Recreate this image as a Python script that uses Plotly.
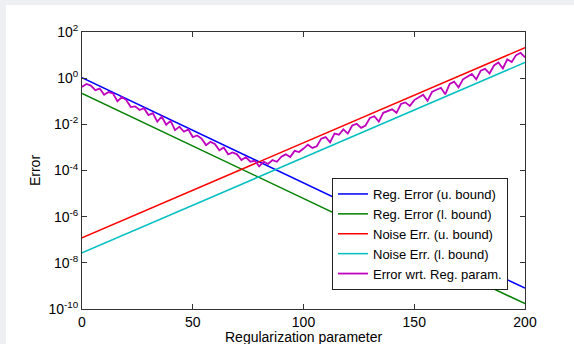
import plotly.graph_objects as go

# ---- data ----
x_ends = [0, 200]
reg_upper = [1.05, 8.0e-10]
reg_lower = [0.22, 1.7e-10]
noise_upper = [1.2e-7, 21.0]
noise_lower = [2.7e-8, 4.8]

x_err = list(range(0, 201, 2))
err_log10 = [
    -0.38, -0.25, -0.32, -0.52, -0.45, -0.72, -0.60, -0.66, -1.00, -0.82,
    -0.95, -1.25, -1.22, -1.38, -1.30, -1.60, -1.52, -1.88, -1.66, -2.02,
    -1.85, -2.25, -2.10, -2.32, -2.22, -2.55, -2.48, -2.62, -2.90, -2.76,
    -2.85, -3.12, -3.00, -3.30, -3.22, -3.30, -3.55, -3.42, -3.62, -3.58,
    -3.82, -3.62, -3.72,
    -3.55, -3.62, -3.40, -3.30, -3.42, -3.15, -3.20, -3.05, -2.88, -3.02,
    -2.95, -2.62, -2.55, -2.78, -2.40, -2.45, -2.22, -2.40, -2.05, -1.98,
    -2.15, -2.05, -1.72, -1.65, -1.88, -1.50, -1.42, -1.35, -1.50, -1.12,
    -1.05, -1.20, -0.95, -0.82, -0.72, -0.98, -0.60, -0.50, -0.42, -0.70,
    -0.25, -0.15, -0.40, -0.05, 0.08, 0.18, -0.05, 0.32, 0.40, 0.20,
    0.55, 0.68, 0.42, 0.82, 0.70, 1.00, 1.10, 0.90,
]
err_vals = [10 ** v for v in err_log10]

y_tickvals = [1e2, 1e0, 1e-2, 1e-4, 1e-6, 1e-8, 1e-10]
y_ticktext = ["10<sup>2</sup>", "10<sup>0</sup>", "10<sup>-2</sup>", "10<sup>-4</sup>",
              "10<sup>-6</sup>", "10<sup>-8</sup>", "10<sup>-10</sup>"]
x_tickvals = [0, 50, 100, 150, 200]

x_title = "Regularization parameter"
y_title = "Error"
names = ["Reg. Error (u. bound)", "Reg. Error (l. bound)", "Noise Err. (u. bound)",
         "Noise Err. (l. bound)", "Error wrt. Reg. param."]

# ---- figure ----
FONT = "Liberation Sans, Arial, sans-serif"
fig = go.Figure()
fig.add_trace(go.Scatter(x=x_ends, y=reg_upper, mode="lines", name=names[0],
                         line=dict(color="#0000ff", width=1.5)))
fig.add_trace(go.Scatter(x=x_ends, y=reg_lower, mode="lines", name=names[1],
                         line=dict(color="#008000", width=1.5)))
fig.add_trace(go.Scatter(x=x_ends, y=noise_upper, mode="lines", name=names[2],
                         line=dict(color="#ff0000", width=1.5)))
fig.add_trace(go.Scatter(x=x_ends, y=noise_lower, mode="lines", name=names[3],
                         line=dict(color="#00bfbf", width=1.5)))
fig.add_trace(go.Scatter(x=x_err, y=err_vals, mode="lines", name=names[4],
                         line=dict(color="#bf00bf", width=1.8)))

# page offset of the figure (body margin set by post_script)
OX, OY = 6, 5
W, H = 574 - OX, 344 - OY
L, R, T, B = 82 - OX, 49, 32 - OY, 35
pw, ph = W - L - R, H - T - B

def px(p):
    return (p - OX - L) / pw

def py(p):
    return 1 - (p - OY - T) / ph

fig.update_layout(
    width=W, height=H,
    margin=dict(l=L, r=R, t=T, b=B),
    paper_bgcolor="white", plot_bgcolor="white",
    font=dict(family=FONT, size=14, color="black"),
    showlegend=True,
    legend=dict(x=px(508), y=py(290), xanchor="right", yanchor="bottom",
                bgcolor="white", bordercolor="#222", borderwidth=1,
                font=dict(size=13), tracegroupgap=0, itemwidth=30),
    annotations=[
        dict(text=x_title, xref="paper", yref="paper", x=0.5, y=py(336.5),
             xanchor="center", yanchor="middle", showarrow=False,
             font=dict(size=14)),
    ],
)
fig.update_xaxes(range=[0, 200], tickvals=x_tickvals, ticks="inside", ticklen=5,
                 showline=True, linecolor="#333", linewidth=1, mirror="ticks",
                 showgrid=False, zeroline=False, tickcolor="#333",
                 automargin=False)
fig.update_yaxes(type="log", range=[-10, 2], tickvals=y_tickvals, ticktext=y_ticktext,
                 ticks="inside", ticklen=5,
                 showline=True, linecolor="#333", linewidth=1, mirror="ticks",
                 showgrid=False, zeroline=False, tickcolor="#333",
                 title=dict(text=y_title, standoff=4, font=dict(size=14)),
                 automargin=False)

fig.write_html(
    "out.html",
    post_script=(
        "document.body.style.margin='%dpx 0 0 %dpx';"
        "document.body.style.background='#eef0f3';"
        "document.body.style.overflow='hidden';" % (OY, OX)
    ),
)
